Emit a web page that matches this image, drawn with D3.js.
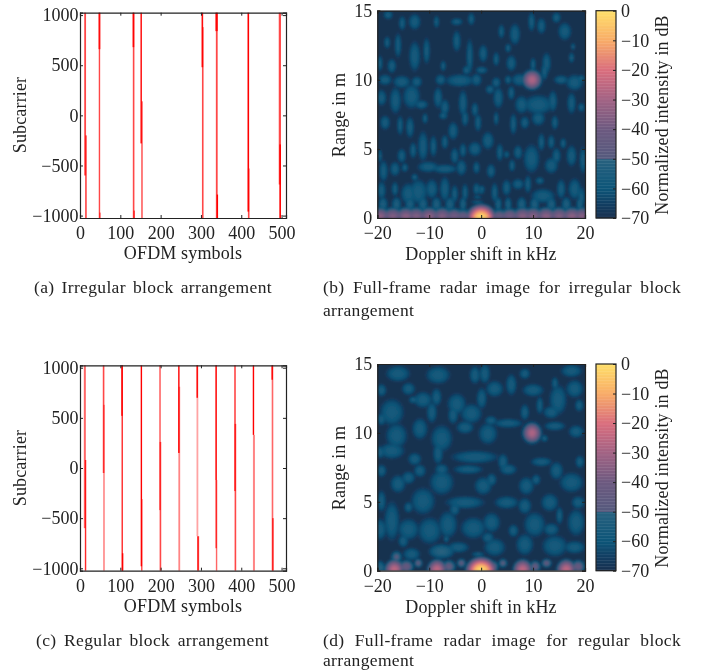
<!DOCTYPE html>
<html>
<head>
<meta charset="utf-8">
<script src="https://cdnjs.cloudflare.com/ajax/libs/d3/7.8.5/d3.min.js"></script>
<style>
  html, body { margin: 0; padding: 0; background: #fff; }
  svg { filter: blur(.3px); }
  text { font-family: "Liberation Serif", serif; fill: #222; }
</style>
</head>
<body>
<svg id="fig" width="701" height="670"></svg>
<script>
//  tick labels
const symbolTicks = [0, 100, 200, 300, 400, 500];
const subcarrierTicks = [-1000, -500, 0, 500, 1000];
const dopplerTicks = [-20, -10, 0, 10, 20];
const rangeTicks = [0, 5, 10, 15];
const intensityTicks = [0, -10, -20, -30, -40, -50, -60, -70];

//  colour bar stops
const colorDb = [-70, -65, -60, -50, -50, -40, -30, -20, -10, 0];
const colorHex = ["#18304f", "#123f63", "#0d5578", "#28617f", "#555a7e", "#6d5a80", "#a26384", "#da6e7e", "#f8ac68", "#ffdf6a"];

//  blocks: first symbol, last symbol, lowest subcarrier, highest subcarrier, strength
const blocksIrregular = [
  [11, 14.5, -600, 1024, .6], [13.5, 16, -1024, -200, .7],
  [46.5, 50, 660, 1024, .7], [47, 49.5, -1024, 1024, .6], [48.5, 50.5, -1024, -970, .6],
  [131, 134, 680, 1024, .8], [131.5, 134.5, -1024, 1024, .6], [133.5, 135, -1024, -950, 1],
  [150.5, 153, -280, 1024, 1], [152.5, 155, -1024, 140, .6],
  [302, 305, 480, 1024, .8], [303, 306, -1024, 880, .6],
  [336.5, 341, 840, 1024, .8], [337.5, 341, -1024, 1024, .6], [339.5, 342, -1024, -790, 1],
  [416, 419, -960, 1024, 1], [417, 420, -1024, -530, .6],
  [493.5, 498, -690, 1024, .6], [495, 498, -1024, -290, .9]
];
const blocksRegular = [
  [10, 14, -600, 1024, .5], [12.5, 15, -1024, 80, .7],
  [57, 60, -50, 1024, .6], [58, 61, -1024, 630, .4],
  [103, 105.5, 520, 1024, 1], [103.5, 106, -1024, 1024, .7], [104.5, 107, -1024, -850, .9],
  [151, 153.5, -980, 1024, .9], [152, 154.5, -1024, -310, .6],
  [197, 200, -420, 1024, .5], [198, 201, -1024, 260, .6],
  [244, 246.5, 150, 1024, .9], [244.5, 248, -1024, 810, .4],
  [289.5, 292, 700, 1024, 1], [289.5, 293, -680, 1024, .3], [291, 295, -1024, -680, .7],
  [336.5, 339, -120, 1024, .6], [336.5, 339, -800, 1024, .6], [337.5, 340, -1024, -120, .5],
  [383, 386, -230, 1024, .6], [384, 387, -1024, 440, .6],
  [429, 431.5, 330, 1024, 1], [429.5, 433.5, -1024, 330, .4],
  [475.5, 478, 880, 1024, 1], [476, 479, -1024, 1024, .5], [477, 480, -1024, -500, .6]
];

//  radar lobes: doppler kHz, range m, half width kHz, half height m, peak dB (default sidelobe level)
const sidelobeDb = -55;
const lobesIrregular = [
  [-17.9,14.7,.7,.25],[-12.8,14.2,.9,.45],[-15.2,14.1,.5,.4],[-8.6,14.2,.4,.35],[-4.7,14.2,.9,.2],[-1.9,14.4,.5,.35],
  [3.9,13.5,.45,.4],[6.5,13.3,.8,.6],[9.7,14.2,.5,.55],[11.6,13.9,.65,.45],[14.5,14.5,.65,.3],[16.1,13.5,1,.5],
  [-18.1,12.7,.45,.35],[-16,12.5,.5,.7],[-12.8,11.7,.85,.85],[-10.5,12.1,.5,.75],[-19.5,11.2,.4,.45],[-17.2,11,.65,.4],
  [-4.7,12.8,.6,.6],[-2.2,11.7,.5,1],[.4,11.9,.65,.5],[2.9,11.5,.45,.4],[5.2,12.3,.45,.25],[5.8,11.2,.75,.45],
  [10,11.1,.4,.4],[12.6,11.2,.65,.6],[17.4,11.6,.4,.3],[17.7,12.4,.3,.2],[-7.3,11,.4,.3],[-2.8,10.7,.6,.25],[.1,10.7,.9,.2],
  [-18.5,10,1,.3],[-15.3,9.85,1.3,.35],[-12.4,9.85,.8,.3],[-7.8,10,.8,.3],[-4.1,9.95,2.2,.35],[-.9,10,.8,.35],
  [1.7,9.3,.65,.25],[2.9,9.8,.65,.3],[5.2,10,.5,.25],[7.4,10,1.2,.35],[9.8,10,1.6,.6,-52],[9.8,10,1.4,.67,-27],
  [15.4,10,1.1,.25],[18,9.8,1.3,.45],[19.3,10.1,.5,.2],[12.2,10.6,.5,.5],
  [-19.2,8.7,.75,.45],[-16.5,8.5,.85,.75],[-13.4,8.8,1.3,.7],[-11.5,8.2,1,.25],[-8.3,8.7,.65,.6],[-7,8,.65,.45],
  [-3.5,8.3,.65,.75],[-1.2,7.85,.5,.4],[3.3,8.7,.75,.6],[5.8,9.05,.5,.4],[7.8,8.2,1,.5],[11,8.2,2.2,.55],[13.8,8.45,.65,.6],
  [17.4,8.3,.65,.6],[19.3,8,.5,.25],
  [-18.5,6.9,.75,.4],[-15.6,6.7,.45,.55],[-13.7,6.56,.6,.6],[-10.8,7.2,.4,.3],[-7.3,7.4,.65,.2],[-3.1,7.2,.5,.45],
  [-5.4,6.3,.75,.5],[-.6,6.9,.5,.5],[2.9,7.2,.35,.4],[6.2,6.8,.5,.6],[8.4,6.9,.65,.35],[11,7.2,1,.4],[14.2,6.9,.5,.4],
  [-11.2,5.2,.75,.85],[-9.2,5.2,.5,.6],[-13.1,4.9,.5,.45],[-15.3,4.5,.65,.4],[-7,5.5,.5,.4],[1.3,5.6,.9,.5],[-1.2,5,1,.4],
  [-3.5,4.9,.5,.4],[-5.1,4.5,.6,.45],[11.6,5.5,.5,.5],[13.5,5.5,.5,.4],[15.8,5.4,.45,.3],[17.4,4.5,.75,.6],[14.5,4.5,.65,.45],
  [3.6,4.75,.5,.5],[4.9,4.6,.4,.2],[7.1,4.75,.65,.4],[9.7,4.3,1.2,.8],[13.5,3.8,1,.45],[-19.5,4.5,.3,.4],[19.6,4.2,.5,.75],
  [-18.8,3.4,.65,.6],[-16.6,3.55,.75,.4],[-14.7,3.65,.5,.25],[-10.2,3.7,1.6,.3],[-7,3.55,1.9,.25],[-3.8,3.65,.75,.45],
  [-.9,3.65,.5,.35],[1.9,3.4,.65,.4],[5.95,3.8,.45,.35],
  [-19.2,2,.65,.5],[-16.6,2.1,.5,.4],[-14,1.75,1.15,.6],[-12.1,1.9,1.4,.7],[-9.5,2.1,.9,.55],[-7,2.1,.75,.7],[-5.1,1.75,.5,.5],
  [-3.1,1.85,.45,.5],[-.9,2.1,.5,.35],[.1,2.1,.5,.2],[2.6,1.85,.5,.55],[4.9,2.2,.65,.45],[7.1,2.45,.9,.3],[9,2.45,.5,.5],
  [11.3,2.7,.65,.2],[11.9,1.6,1.8,.4],[15.4,2.1,.65,.55],[18,2.1,.95,.6],[19.3,1.5,.5,.6],[-12.8,2.95,.5,.2],
  [-18.9,1,.7,.4,-53],[-16.3,1,.7,.4,-53],[-13.7,1,.7,.4,-53],[-11.2,1,.7,.4,-53],[-8.6,1,.7,.4,-53],[-6,1,.7,.4,-53],
  [-3.5,1,.5,.4,-53],[3.3,1,.5,.4,-53],[5.2,1,.5,.4,-53],[7.8,1,.7,.4,-53],[10.3,1,.7,.4,-53],[13.5,1,.7,.4,-53],
  [16.4,1,.7,.4,-53],[19,1,.5,.4,-53],
  [-.7,1.15,1,.08],[-.7,1.5,.7,.07],[0,1.85,.5,.07],
  [-19.5,.05,1.6,.68,-33],[-17,.05,1.6,.68,-35],[-14.5,.05,1.6,.68,-33],[-12.5,.05,1.6,.68,-35],[-10,.05,1.6,.68,-33],[-7.5,.05,1.6,.68,-35],
  [-5.2,.05,1.5,.62,-38],[-3.5,.05,1.5,.58,-42],[3.5,.05,1.5,.58,-42],[5.5,.05,1.5,.62,-38],[8,.05,1.6,.68,-34],[10,.05,1.6,.68,-34],
  [12.5,.05,1.6,.68,-33],[15,.05,1.6,.68,-35],[17.5,.05,1.6,.68,-33],[19.5,.05,1.6,.68,-34],
  [0,0,2.1,.9,0]
];
const lobesRegular = [
  [-16,14.3,1.8,.45],[-14,13.2,1,.35],[-8.3,14.2,1.8,.5],[-1.2,14.2,.8,.5],[.7,14.3,.8,.55],[2.6,13.2,1.3,.45],[5.8,13.5,.8,.6],
  [8.4,14.3,.8,.3],[10,13.1,1.6,.35],[11.3,12,.5,.5],[17.4,14.5,1.6,.35],[18,13.2,1.3,.5],[14.2,13.6,.5,.35],[14.8,12.4,1.3,.85],
  [13.5,11.5,1.2,.35],[18.9,12,.65,.35],[-19.2,13.1,.75,.35],[-17.2,11.5,1.8,.75],[-19.2,11,.65,.35],[-11.2,12.4,1.4,.45],
  [-13.1,12.4,.65,.2],[-9.5,11.5,.75,.6],[-8.6,12.6,.75,.5],[-4.7,12.1,1.4,.6],[-5.4,11.3,.75,.5],[-1.9,11.4,1.6,.55],[.1,12.5,.75,.6],
  [1.9,10.9,.9,.25],[5.2,10.7,2.2,.25],[8.4,11.5,.65,.45],[-16.3,9.8,1.6,.7],[-17.2,8.7,1.9,.45],[-19.5,8.6,.75,.35],[-11.8,10.3,1.15,.6],
  [-7.6,9.6,1.6,.75],[-8.3,8.5,.75,.6],[-3.1,10.4,1.3,.35],[1.3,9.95,1.4,.6],[-1.2,8.25,3.5,.35],[4.2,7.9,.75,.45],[11.6,7.9,1.6,.25],
  [14.2,10.5,1.6,.25],[18.3,10.1,1.15,.35],[12.2,9.6,.5,.2],[19,7.9,.65,.35],[-12.8,8.1,1,.35],
  [9.8,10,1.55,.65,-52],[9.8,10,1.35,.7,-27],
  [-16,6.3,1.15,.5],[-14,6.75,1,.35],[-11.8,7.25,.9,.35],[-19.2,7.25,.75,.35],[-7.6,6.4,1.8,.7],[-7.6,7.35,1,.3],[.4,6.15,1.3,.5],
  [2,6.6,.75,.35],[-2.5,7.35,2.2,.25],[8.7,6.15,1.15,.5],[10.6,6.6,.65,.3],[17.4,6.4,1.8,.55],[14.5,7.25,1,.5],[5.2,7.35,1.3,.3],
  [-19.2,5.05,.65,.6],[-11.2,5.05,1.8,.75],[-14,4.6,.65,.3],[-3.1,4.95,2.9,.35],[-5.1,4.45,.75,.35],[4.9,4.95,1.8,.35],[8.4,4.7,1,.45],
  [13.2,4.95,1.3,.5],[18.7,4.95,1,.35],[15.1,4,.5,.5],[-17.2,3.6,1.15,1.1],[-14,3,1.6,.6],[-9.9,2.9,1.8,.75],[-6.4,3.35,1.4,.75],
  [-1.5,3.1,1.9,.6],[2,3.5,1.3,.55],[6.2,2.9,.75,.35],[10.3,3.35,1.6,.7],[13.5,3,1.15,.35],[18.3,3.5,1.3,.75],[-19.5,3,1,.6],
  [-15,2.15,.75,.35],[1.3,2.4,.9,.3],[-6.7,2.3,.4,.2],[8.4,1.9,1.3,.6],[14.2,1.8,1.9,.6],[18,1.7,1.6,.35],
  [-16.3,1,.8,.4,-47],[-7.6,1.4,1.9,.4,-50],[-4.4,1.7,1.6,.3],[2.6,1.7,1.6,.5],[-.6,1.2,1,.12],[-13.4,1.2,1.3,.35],
  [-12.1,.55,.6,.3,-45],[-3.8,.55,.65,.3,-45],[4.2,.55,.65,.3,-46],[12.6,.55,.75,.3,-44],
  [-14.4,.3,1.1,.45,-42],[-6.2,.3,1,.45,-44],[2.3,.3,.8,.4,-44],[10.4,.3,.8,.4,-43],[18.7,.3,1,.45,-42],[-19.5,.2,.8,.4,-50],
  [-16.7,.05,1.4,.72,-24],[-8.5,.05,1.4,.72,-24],[8,.05,1.4,.72,-24],[16.4,.05,1.4,.72,-24],[0,0,2.2,.9,0]
];

const svg = d3.select("#fig");
const color = d3.scaleLinear().domain(colorDb).range(colorHex).clamp(true);
const fmt = d => String(d).replace("-", "\u2212");
const LABEL = 18;

//  box with inward ticks on all four sides
function box(g, x, y, xt, yt, xPad, yPad) {
  const h = y.range()[0], w = x.range()[1];
  g.append("g").attr("transform", `translate(0,${h})`)
    .call(d3.axisBottom(x).tickValues(xt).tickFormat(fmt).tickSize(-3).tickPadding(xPad));
  g.append("g").attr("transform", `translate(${x.range()[0]},0)`)
    .call(d3.axisLeft(y).tickValues(yt).tickFormat(fmt).tickSize(-3).tickPadding(yPad));
  g.append("g").attr("transform", `translate(0,${y.range()[1]})`)
    .call(d3.axisTop(x).tickValues(xt).tickFormat("").tickSize(-3));
  g.append("g").attr("transform", `translate(${w},0)`)
    .call(d3.axisRight(y).tickValues(yt).tickFormat("").tickSize(-3));
  g.selectAll(".domain").attr("stroke", "#222").attr("stroke-width", 1.2);
  g.selectAll(".tick line").attr("stroke", "#222");
  g.selectAll(".tick text").attr("font-size", LABEL).attr("font-family", "Liberation Serif").attr("fill", "#222");
}

function yLabel(txt, x, y) {
  svg.append("text").attr("transform", `translate(${x},${y}) rotate(-90)`)
    .attr("text-anchor", "middle").attr("font-size", LABEL).attr("letter-spacing", .15).text(txt);
}
function xLabel(txt, x, y) {
  svg.append("text").attr("x", x).attr("y", y).attr("text-anchor", "middle").attr("font-size", LABEL).attr("letter-spacing", .15).text(txt);
}

//  justified caption line
function caption(txt, x0, x1, y) {
  const t = svg.append("text").attr("x", x0).attr("y", y).attr("font-size", 17.5).attr("letter-spacing", .35).text(txt);
  const gaps = txt.split(" ").length - 1;
  if (x1 && gaps) t.attr("word-spacing", (x1 - x0 - t.node().getComputedTextLength()) / gaps);
}

function drawBlocks(blocks, top, bottom) {
  const x = d3.scaleLinear().domain([0, 511]).range([80, 286]);
  const y = d3.scaleLinear().domain([-1024, 1024]).range([bottom, top]);
  const g = svg.append("g");
  g.selectAll("rect").data(blocks).enter().append("rect")
    .attr("x", d => x(d[0]) - .2)
    .attr("width", d => x(d[1]) - x(d[0]) + .4)
    .attr("y", d => y(d[3]))
    .attr("height", d => y(d[2]) - y(d[3]))
    .attr("fill", "red")
    .attr("fill-opacity", d => Math.min(1, d[4] * 1.2));
  box(g, x, y, symbolTicks, subcarrierTicks, 8.5, 1.5);
}

let clipId = 0;
function drawRadar(lobes, top, bottom) {
  const x = d3.scaleLinear().domain([-20, 20]).range([377.3, 585]);
  const y = d3.scaleLinear().domain([0, 15]).range([bottom, top]);
  const nx = 208, ny = Math.round(bottom - top);
  const gx = d3.scaleLinear().domain([0, nx]).range([-20, 20]);
  const gy = d3.scaleLinear().domain([0, ny]).range([15, 0]);
  const field = new Float64Array(nx * ny).fill(-70);
  lobes.forEach(l => {
    const peak = l[4] === undefined ? sidelobeDb : l[4];
    const wf = l[2] * 1.5, wr = l[3] * (peak > -50 ? 1.2 : 1.5);
    for (let j = 0; j < ny; j++) {
      const dr = (gy(j + .5) - l[1]) / wr;
      if (Math.abs(dr) >= 1) continue;
      for (let i = 0; i < nx; i++) {
        const df = (gx(i + .5) - l[0]) / wf;
        const v = peak - (peak + 70) * (df * df + dr * dr);
        if (v > field[j * nx + i]) field[j * nx + i] = v;
      }
    }
  });
  const contours = d3.contours().size([nx, ny]).smooth(true).thresholds(d3.range(-69, 0.5, 1))(Array.from(field));
  const path = d3.geoPath(d3.geoTransform({
    point(a, b) { this.stream.point(x(gx(a)), y(gy(b))); }
  }));
  const id = "clip" + (clipId++);
  svg.append("clipPath").attr("id", id).append("rect")
    .attr("x", x(-20)).attr("y", top).attr("width", x(20) - x(-20)).attr("height", bottom - top);
  const g = svg.append("g");
  const img = g.append("g").attr("clip-path", `url(#${id})`).append("g").attr("filter", "url(#soft)");
  img.append("rect").attr("x", x(-20) - 4).attr("y", top - 4).attr("width", x(20) - x(-20) + 8).attr("height", bottom - top + 8)
    .attr("fill", color(-70));
  img.selectAll("path").data(contours).enter().append("path")
    .attr("d", path)
    .attr("fill", d => color(d.value));
  box(g, x, y, dopplerTicks, rangeTicks, 8.5, 5);

  //  colour bar
  const cb = svg.append("g");
  const cy = d3.scaleLinear().domain([-70, 0]).range([bottom, top]);
  cb.selectAll("rect").data(d3.range(-70, 0, 0.5)).enter().append("rect")
    .attr("x", 596).attr("width", 20)
    .attr("y", d => cy(d + .5)).attr("height", d => cy(d) - cy(d + .5) + .4)
    .attr("fill", d => color(d + .25));
  cb.append("rect").attr("x", 596).attr("width", 20).attr("y", top).attr("height", bottom - top)
    .attr("fill", "none").attr("stroke", "#222").attr("stroke-width", 1.2);
  const axis = cb.append("g").attr("transform", "translate(616,0)")
    .call(d3.axisRight(cy).tickValues(intensityTicks).tickFormat(fmt).tickSize(-3).tickPadding(5));
  axis.select(".domain").remove();
  axis.selectAll(".tick line").attr("stroke", "#222");
  axis.selectAll(".tick text").attr("font-size", LABEL).attr("font-family", "Liberation Serif").attr("fill", "#222");
}

svg.append("filter").attr("id", "soft").append("feGaussianBlur").attr("stdDeviation", 1);

drawBlocks(blocksIrregular, 12.7, 218);
drawBlocks(blocksRegular, 365.3, 570.7);
drawRadar(lobesIrregular, 10.7, 218);
drawRadar(lobesRegular, 364, 570.7);

yLabel("Subcarrier", 26, 115);
yLabel("Subcarrier", 26, 468);
xLabel("OFDM symbols", 183, 259);
xLabel("OFDM symbols", 183, 612);
yLabel("Range in m", 345, 115);
yLabel("Range in m", 345, 468);
xLabel("Doppler shift in kHz", 481, 260);
xLabel("Doppler shift in kHz", 481, 613);
yLabel("Normalized intensity in dB", 668, 115);
yLabel("Normalized intensity in dB", 668, 468);

caption("(a) Irregular block arrangement", 34, 272, 293);
caption("(b) Full-frame radar image for irregular block", 323, 681, 293);
caption("arrangement", 323, null, 316);
caption("(c) Regular block arrangement", 36, 269, 646);
caption("(d) Full-frame radar image for regular block", 323, 681, 646);
caption("arrangement", 323, null, 666);
</script>
</body>
</html>
